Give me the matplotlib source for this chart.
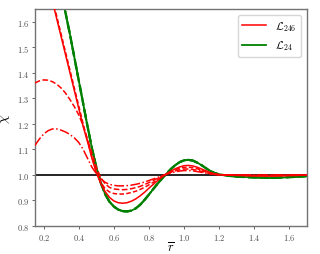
import matplotlib
matplotlib.use("Agg")
import matplotlib.pyplot as plt

plt.rcParams['mathtext.fontset'] = 'cm'
plt.rcParams['font.family'] = 'serif'
plt.rcParams['font.serif'] = ['cmr10', 'DejaVu Serif']
plt.rcParams['axes.formatter.use_mathtext'] = True

# red curves (L_246)
r_solid_x = [0.15, 0.25, 0.30, 0.35, 0.40, 0.425, 0.45, 0.475, 0.50, 0.525, 0.55, 0.575, 0.60,
             0.625, 0.65, 0.675, 0.70, 0.725, 0.75, 0.775, 0.80, 0.825, 0.85, 0.875, 0.90, 0.925,
             0.95, 0.975, 1.00, 1.025, 1.05, 1.075, 1.10, 1.125, 1.15, 1.175, 1.20, 1.25, 1.30,
             1.40, 1.50, 1.60, 1.70]
r_solid_y = [2.00, 1.68, 1.54, 1.40, 1.26, 1.19, 1.13, 1.065, 1.01, 0.967, 0.935, 0.912, 0.898,
             0.891, 0.889, 0.891, 0.897, 0.906, 0.918, 0.932, 0.948, 0.963, 0.978, 0.992, 1.004,
             1.015, 1.024, 1.031, 1.036, 1.037, 1.035, 1.030, 1.023, 1.016, 1.009, 1.004, 1.001,
             0.999, 0.998, 0.996, 0.995, 0.997, 0.999]

r_dot_x = [0.15, 0.25, 0.30, 0.35, 0.40, 0.425, 0.45, 0.475, 0.50, 0.525, 0.55, 0.575, 0.60,
           0.625, 0.65, 0.675, 0.70, 0.725, 0.75, 0.775, 0.80, 0.825, 0.85, 0.875, 0.90, 0.925,
           0.95, 0.975, 1.00, 1.025, 1.05, 1.075, 1.10, 1.125, 1.15, 1.175, 1.20, 1.40, 1.70]
r_dot_y = [2.00, 1.69, 1.55, 1.41, 1.27, 1.20, 1.135, 1.07, 1.012, 0.972, 0.946, 0.933, 0.927,
           0.925, 0.925, 0.927, 0.931, 0.936, 0.943, 0.951, 0.961, 0.971, 0.982, 0.993, 1.003,
           1.012, 1.020, 1.026, 1.029, 1.030, 1.028, 1.024, 1.018, 1.012, 1.007, 1.003, 1.001,
           0.997, 0.999]

r_dash_x = [0.15, 0.175, 0.20, 0.225, 0.25, 0.275, 0.30, 0.325, 0.35, 0.375, 0.40, 0.425, 0.45,
            0.475, 0.50, 0.525, 0.55, 0.575, 0.60, 0.625, 0.65, 0.675, 0.70, 0.725, 0.75, 0.775,
            0.80, 0.825, 0.85, 0.875, 0.90, 0.925, 0.95, 0.975, 1.00, 1.025, 1.05, 1.075, 1.10,
            1.125, 1.15, 1.175, 1.20, 1.40, 1.70]
r_dash_y = [1.36, 1.368, 1.372, 1.371, 1.365, 1.355, 1.34, 1.32, 1.295, 1.267, 1.235, 1.193, 1.14,
            1.085, 1.03, 0.99, 0.965, 0.951, 0.945, 0.943, 0.942, 0.943, 0.946, 0.950, 0.955, 0.962,
            0.970, 0.978, 0.987, 0.995, 1.003, 1.010, 1.016, 1.020, 1.023, 1.023, 1.021, 1.018,
            1.014, 1.009, 1.005, 1.002, 1.000, 0.998, 0.999]

r_dashdot_x = [0.15, 0.175, 0.20, 0.225, 0.25, 0.275, 0.30, 0.325, 0.35, 0.375, 0.40, 0.425, 0.45,
               0.475, 0.50, 0.525, 0.55, 0.575, 0.60, 0.625, 0.65, 0.675, 0.70, 0.725, 0.75, 0.775,
               0.80, 0.825, 0.85, 0.875, 0.90, 0.925, 0.95, 0.975, 1.00, 1.025, 1.05, 1.075, 1.10,
               1.125, 1.15, 1.175, 1.20, 1.70]
r_dashdot_y = [1.115, 1.14, 1.16, 1.173, 1.18, 1.18, 1.175, 1.168, 1.158, 1.145, 1.127, 1.10, 1.065,
               1.03, 1.005, 0.985, 0.971, 0.963, 0.959, 0.957, 0.957, 0.958, 0.960, 0.963, 0.967,
               0.972, 0.978, 0.984, 0.990, 0.997, 1.003, 1.008, 1.012, 1.015, 1.017, 1.017, 1.016,
               1.013, 1.010, 1.007, 1.004, 1.002, 1.000, 1.000]

# green curves (L_24)
g_x = [0.28, 0.32, 0.35, 0.375, 0.40, 0.425, 0.45, 0.475, 0.50, 0.525, 0.55, 0.575, 0.60, 0.625,
       0.65, 0.675, 0.70, 0.725, 0.75, 0.775, 0.80, 0.825, 0.85, 0.875, 0.90, 0.925, 0.95, 0.975,
       1.00, 1.025, 1.05, 1.075, 1.10, 1.125, 1.15, 1.175, 1.20, 1.25, 1.30, 1.40, 1.50, 1.60, 1.70]
g_y = [1.80, 1.65, 1.55, 1.46, 1.37, 1.28, 1.19, 1.105, 1.03, 0.97, 0.925, 0.895, 0.876, 0.864,
       0.858, 0.857, 0.860, 0.869, 0.883, 0.902, 0.923, 0.945, 0.966, 0.986, 1.005, 1.023, 1.038,
       1.050, 1.057, 1.059, 1.056, 1.048, 1.038, 1.026, 1.015, 1.007, 1.002, 0.997, 0.993, 0.990,
       0.988, 0.991, 0.995]

fig = plt.figure(figsize=(3.2, 2.55), dpi=100)
ax = fig.add_axes([0.109, 0.11, 0.85, 0.851])

ax.axhline(1.0, color='black', lw=1.2, zorder=1)

ax.plot(g_x, g_y, color='green', lw=1.3, ls='-', label=r'$\mathcal{L}_{24}$', zorder=2)
ax.plot(g_x, g_y, color='green', lw=1.7, ls='--', zorder=2)
ax.plot(g_x, g_y, color='green', lw=1.5, ls='-.', zorder=2)

ax.plot(r_solid_x, r_solid_y, color='red', lw=1.1, ls='-', label=r'$\mathcal{L}_{246}$', zorder=3)
ax.plot(r_dot_x, r_dot_y, color='red', lw=1.1, ls=(0, (3, 1.5)), zorder=3)
ax.plot(r_dash_x, r_dash_y, color='red', lw=1.1, ls='--', zorder=3)
ax.plot(r_dashdot_x, r_dashdot_y, color='red', lw=1.1, ls='-.', zorder=3)

ax.set_xlim(0.15, 1.7)
ax.set_ylim(0.8, 1.65)
ax.set_xticks([0.2, 0.4, 0.6, 0.8, 1.0, 1.2, 1.4, 1.6])
ax.set_yticks([0.8, 0.9, 1.0, 1.1, 1.2, 1.3, 1.4, 1.5, 1.6])
ax.tick_params(labelsize=6, length=2.5, width=0.6, colors='0.3', pad=1.5)
for s in ax.spines.values():
    s.set_color('0.45')
    s.set_linewidth(1.0)

ax.set_xlabel(r'$\overline{r}$', fontsize=9)
ax.xaxis.set_label_coords(0.5, -0.068)
ax.set_ylabel(r'$\chi$', fontsize=10)
ax.yaxis.set_label_coords(-0.085, 0.5)

handles, labels = ax.get_legend_handles_labels()
ax.legend([handles[1], handles[0]], [labels[1], labels[0]], loc='upper right', fontsize=8,
          handlelength=2.2, framealpha=0.8)

fig.savefig('out.png', dpi=100)
